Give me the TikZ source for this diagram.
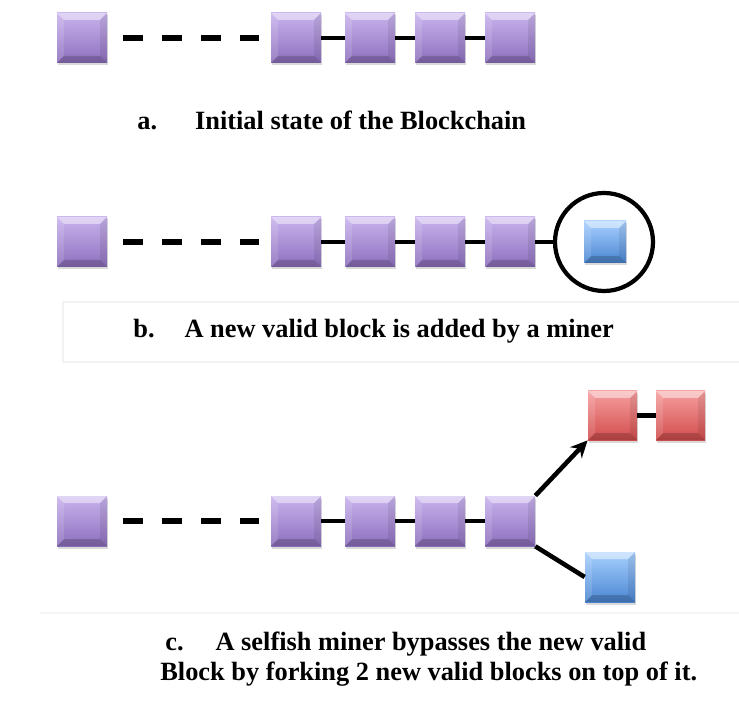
\documentclass[tikz,border=0pt]{standalone}
\usepackage{fontspec}
\setmainfont{Liberation Serif}
\usetikzlibrary{arrows.meta,shadows}

\definecolor{purpleTop}{HTML}{C9B3EE}
\definecolor{purpleMid}{HTML}{B39CDD}
\definecolor{purpleBot}{HTML}{8D6FBD}
\definecolor{blueTop}{HTML}{A8D0FF}
\definecolor{blueMid}{HTML}{7DB1EE}
\definecolor{blueBot}{HTML}{4A86D2}
\definecolor{redTop}{HTML}{F69E9E}
\definecolor{redMid}{HTML}{EC7676}
\definecolor{redBot}{HTML}{D24C4C}

\tikzset{
    blk/.style={minimum size=1cm, inner sep=0pt, draw=none,
        drop shadow={opacity=0.3, shadow xshift=0.02cm, shadow yshift=-0.05cm},
        path picture={
            \fill[white, opacity=0.45] (path picture bounding box.north west)
                -- (path picture bounding box.north east)
                -- ([shift={(-0.14,-0.14)}]path picture bounding box.north east)
                -- ([shift={(0.14,-0.14)}]path picture bounding box.north west) -- cycle;
            \fill[black, opacity=0.18] (path picture bounding box.south west)
                -- (path picture bounding box.south east)
                -- ([shift={(-0.14,0.14)}]path picture bounding box.south east)
                -- ([shift={(0.14,0.14)}]path picture bounding box.south west) -- cycle;
            \fill[white, opacity=0.12] (path picture bounding box.north west)
                -- ([shift={(0.14,-0.14)}]path picture bounding box.north west)
                -- ([shift={(0.14,0.14)}]path picture bounding box.south west)
                -- (path picture bounding box.south west) -- cycle;
            \fill[black, opacity=0.08] (path picture bounding box.north east)
                -- ([shift={(-0.14,-0.14)}]path picture bounding box.north east)
                -- ([shift={(-0.14,0.14)}]path picture bounding box.south east)
                -- (path picture bounding box.south east) -- cycle;
        }},
    purpleblk/.style={blk, top color=purpleTop, middle color=purpleMid, bottom color=purpleBot},
    blueblk/.style={blk, top color=blueTop, middle color=blueMid, bottom color=blueBot},
    redblk/.style={blk, top color=redTop, middle color=redMid, bottom color=redBot},
    link/.style={line width=2.6pt},
    gapdash/.style={line width=3pt, dash pattern=on 0.4cm off 0.38cm},
    caption/.style={anchor=base west, inner sep=0pt, font=\bfseries\fontsize{15}{17}\selectfont}
}

\begin{document}
\begin{tikzpicture}
    \useasboundingbox (0,0) rectangle (14.78,14.34);

    % Faint frames
    \draw[black!5, line width=0.6pt] (14.9,8.3) -- (1.26,8.3) -- (1.26,7.1) -- (14.9,7.1);
    \draw[black!4, line width=0.6pt] (0.8,2.08) -- (14.78,2.08);

    % Chains
    \foreach \r/\y in {a/13.58, b/9.50, c/3.92} {
        \foreach \i/\x in {1/1.64, 2/5.92, 3/7.40, 4/8.80, 5/10.20}
            \node[purpleblk] (\r\i) at (\x,\y) {};
        \draw[gapdash] ([xshift=0.32cm]\r1.east) -- ([xshift=-0.24cm]\r2.west);
        \draw[link] (\r2) -- (\r3);
        \draw[link] (\r3) -- (\r4);
        \draw[link] (\r4) -- (\r5);
    }

    % New block
    \node[blueblk, minimum size=0.84cm] (bnew) at (12.10,9.50) {};
    \node[circle, draw, line width=2.4pt, minimum size=1.96cm] (ring) at (12.08,9.50) {};
    \draw[link] (b5.east) -- (ring.west);

    % Fork
    \node[redblk, minimum size=0.98cm] (red1) at (12.25,6.03) {};
    \node[redblk, minimum size=0.98cm] (red2) at (13.61,6.03) {};
    \node[blueblk] (cnew) at (12.20,2.80) {};
    \draw[link] (red1) -- (red2);
    \draw[link, -{Stealth[length=0.34cm, width=0.32cm]}] (c5.north east) -- (red1.south west);
    \draw[link] (c5.south east) -- (cnew.west);

    % Captions
    \node[caption] (capa) at (2.74,11.74) {a.\hspace{0.76cm}Initial state of the Blockchain};
    \node[caption] (capb) at (2.66,7.58) {b.\hspace{0.6cm}A new valid block is added by a miner};
    \node[caption] (capc) at (3.30,1.34) {c.\hspace{0.64cm}A selfish miner bypasses the new valid};
    \node[caption] (capd) at (3.20,0.74) {Block by forking 2 new valid blocks on top of it.};
\end{tikzpicture}
\end{document}
